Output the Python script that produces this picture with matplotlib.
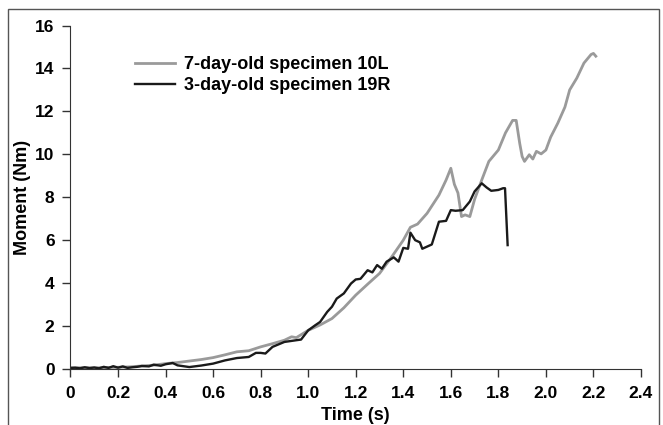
import matplotlib.pyplot as plt
from matplotlib.patches import Rectangle

plt.rcParams['font.family'] = ['Liberation Sans', 'DejaVu Sans']
plt.rcParams['font.weight'] = 'bold'

# 7-day-old specimen 10L (grey)
t_10L = [0.0, 0.05, 0.1, 0.15, 0.2, 0.25, 0.3, 0.35, 0.4, 0.45, 0.5, 0.55, 0.6, 0.65,
         0.7, 0.75, 0.8, 0.85, 0.9, 0.93, 0.95, 1.0, 1.05, 1.1, 1.15, 1.2, 1.25, 1.3,
         1.35, 1.4, 1.43, 1.46, 1.5, 1.55, 1.58, 1.6, 1.615, 1.63, 1.645, 1.66, 1.68,
         1.7, 1.73, 1.76, 1.8, 1.83, 1.86, 1.875, 1.89, 1.9, 1.91, 1.93, 1.945, 1.96,
         1.98, 2.0, 2.02, 2.05, 2.08, 2.1, 2.13, 2.16, 2.19, 2.2, 2.21]
m_10L = [0.05, 0.06, 0.05, 0.07, 0.08, 0.1, 0.14, 0.18, 0.25, 0.3, 0.37, 0.44, 0.53, 0.66,
         0.8, 0.85, 1.03, 1.18, 1.34, 1.5, 1.46, 1.8, 2.05, 2.35, 2.85, 3.44, 3.95, 4.45,
         5.2, 6.0, 6.6, 6.75, 7.25, 8.1, 8.8, 9.35, 8.6, 8.2, 7.1, 7.18, 7.1,
         7.9, 8.8, 9.67, 10.2, 11.0, 11.58, 11.58, 10.5, 9.9, 9.67, 9.98, 9.78, 10.14,
         10.02, 10.2, 10.8, 11.45, 12.2, 13.0, 13.55, 14.25, 14.65, 14.7, 14.57]

# 3-day-old specimen 19R (black)
t_19R = [0.0, 0.02, 0.04, 0.06, 0.08, 0.1, 0.12, 0.14, 0.16, 0.18, 0.2, 0.22, 0.24,
         0.26, 0.28, 0.3, 0.33, 0.35, 0.38, 0.4, 0.43, 0.45, 0.5, 0.55, 0.6, 0.65, 0.7,
         0.75, 0.78, 0.8, 0.82, 0.85, 0.9, 0.95, 0.97, 1.0, 1.03, 1.05, 1.08, 1.1, 1.12,
         1.15, 1.18, 1.2, 1.22, 1.25, 1.27, 1.29, 1.31, 1.33, 1.36, 1.38, 1.4, 1.42,
         1.43, 1.45, 1.47, 1.48, 1.5, 1.52, 1.55, 1.58, 1.6, 1.62, 1.65, 1.68, 1.7,
         1.73, 1.75, 1.77, 1.8, 1.82, 1.828, 1.839]
m_19R = [0.05, 0.06, 0.03, 0.08, 0.04, 0.07, 0.03, 0.1, 0.05, 0.13, 0.06, 0.12, 0.05,
         0.08, 0.1, 0.14, 0.12, 0.2, 0.15, 0.22, 0.28, 0.17, 0.09, 0.16, 0.25, 0.4, 0.51,
         0.56, 0.75, 0.75, 0.72, 1.03, 1.26, 1.34, 1.37, 1.8, 2.04, 2.19, 2.66, 2.9, 3.28,
         3.52, 3.98, 4.17, 4.2, 4.6, 4.5, 4.84, 4.67, 5.0, 5.2, 5.0, 5.64, 5.6,
         6.35, 6.0, 5.9, 5.6, 5.7, 5.8, 6.86, 6.9, 7.4, 7.37, 7.4, 7.8, 8.27,
         8.65, 8.46, 8.3, 8.34, 8.42, 8.42, 5.77]

x_ticks = [0, 0.2, 0.4, 0.6, 0.8, 1.0, 1.2, 1.4, 1.6, 1.8, 2.0, 2.2, 2.4]
x_labels = ['0', '0.2', '0.4', '0.6', '0.8', '1.0', '1.2', '1.4', '1.6', '1.8', '2.0', '2.2', '2.4']
y_ticks = [0, 2, 4, 6, 8, 10, 12, 14, 16]

fig = plt.figure(figsize=(6.63, 4.25), dpi=100)
ax = fig.add_axes([0.1063, 0.1318, 0.8605, 0.8082])

ax.plot(t_10L, m_10L, color='#9a9a9a', linewidth=2.0, label='7-day-old specimen 10L')
ax.plot(t_19R, m_19R, color='#1a1a1a', linewidth=1.7, label='3-day-old specimen 19R')

ax.set_xlim(0, 2.4)
ax.set_ylim(0, 16)
ax.set_xticks(x_ticks)
ax.set_xticklabels(x_labels)
ax.set_yticks(y_ticks)
ax.spines['top'].set_visible(False)
ax.spines['right'].set_visible(False)
ax.spines['left'].set_color('#333333')
ax.spines['bottom'].set_color('#333333')
ax.tick_params(direction='out', length=5.5, width=1, color='#333333', labelsize=12.5)
ax.tick_params(axis='x', pad=7)
ax.tick_params(axis='y', pad=6)
for lab in ax.get_xticklabels() + ax.get_yticklabels():
    lab.set_fontweight('bold')

ax.set_xlabel('Time (s)', fontsize=13, fontweight='bold', labelpad=4)
ax.set_ylabel('Moment (Nm)', fontsize=13, fontweight='bold', labelpad=3)

leg = ax.legend(loc='upper left', bbox_to_anchor=(0.113, 0.91), frameon=False,
                handlelength=2.2, handletextpad=0.5, borderpad=0, borderaxespad=0,
                labelspacing=0.2, prop={'size': 13, 'weight': 'bold'})

# outer frame around the figure
fig.patches.append(Rectangle((0.012, -0.1), 0.982, 1.078, transform=fig.transFigure,
                             fill=False, edgecolor='#555555', linewidth=1))

plt.savefig('out.png', dpi=100)
